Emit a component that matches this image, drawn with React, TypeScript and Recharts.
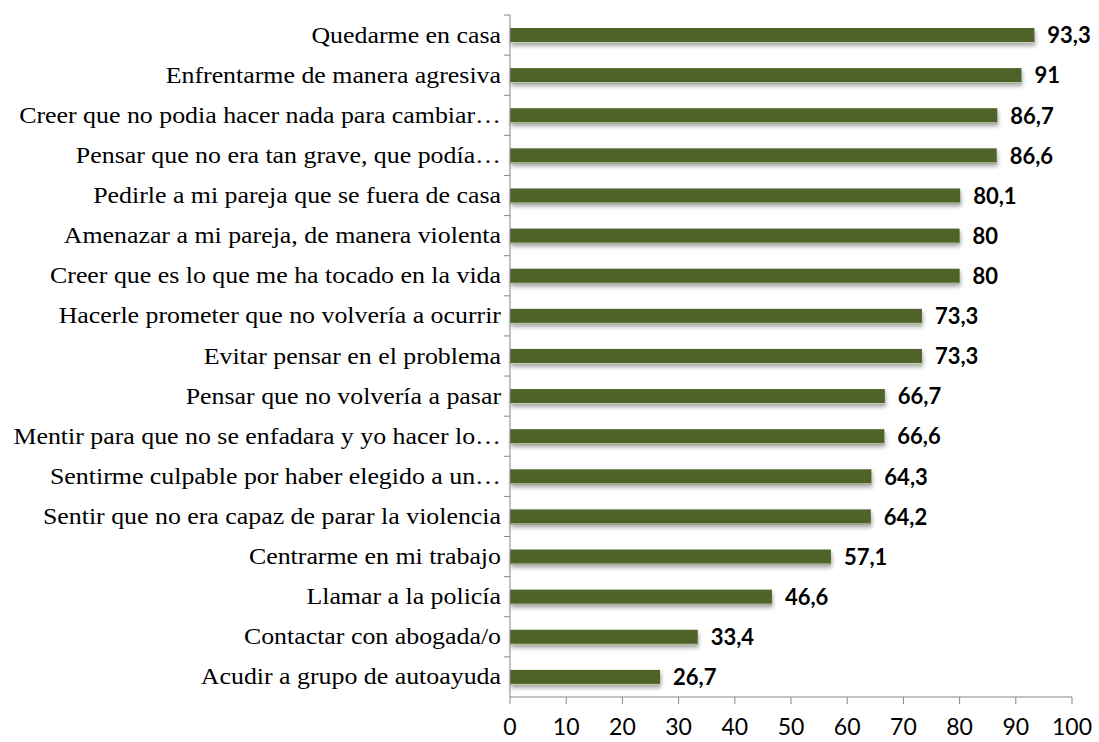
import { BarChart, Bar, XAxis, YAxis, LabelList } from 'recharts';

const categories = [
  'Quedarme en casa',
  'Enfrentarme de manera agresiva',
  'Creer que no podia hacer nada para cambiar…',
  'Pensar que no era tan grave, que podía…',
  'Pedirle a mi pareja que se fuera de casa',
  'Amenazar a mi pareja, de manera violenta',
  'Creer que es lo que me ha tocado en la vida',
  'Hacerle prometer que no volvería a ocurrir',
  'Evitar pensar en el problema',
  'Pensar que no volvería a pasar',
  'Mentir para que no se enfadara y yo hacer lo…',
  'Sentirme culpable por haber elegido a un…',
  'Sentir que no era capaz de parar la violencia',
  'Centrarme en mi trabajo',
  'Llamar a la policía',
  'Contactar con abogada/o',
  'Acudir a grupo de autoayuda',
];

const values = [93.3, 91, 86.7, 86.6, 80.1, 80, 80, 73.3, 73.3, 66.7, 66.6, 64.3, 64.2, 57.1, 46.6, 33.4, 26.7];

const xTicks = [0, 10, 20, 30, 40, 50, 60, 70, 80, 90, 100];

const data = categories.map((name, i) => ({ name, value: values[i] }));

const W = 1099;
const H = 742;
const TOP = 15;
const BOTTOM = 45;
const BAND = (H - TOP - BOTTOM) / categories.length;

// category labels: the original is a stretched Times text, so widen it a bit
const CategoryTick = (props: any) => {
  const { x, y, payload } = props;
  return (
    <g>
      <line x1={x + 2} x2={x + 8} y1={y - BAND / 2} y2={y - BAND / 2} stroke="#868686" />
      <text
        transform={`translate(${x - 1},${y + 7.5}) scale(1.15,1)`}
        textAnchor="end"
        fontFamily="'Liberation Serif', 'Times New Roman', serif"
        fontSize={22.5}
        fill="#000"
      >
        {payload.value}
      </text>
    </g>
  );
};

const ShadowBar = (props: any) => {
  const { x, y, width, height, fill } = props;
  return (
    <g>
      <rect x={x} y={y} width={width} height={height} fill={fill}
        style={{ filter: 'drop-shadow(1px 3px 2px rgba(0,0,0,0.35))' }} />
      <line x1={x} x2={x + width} y1={y + height - 0.5} y2={y + height - 0.5} stroke="#c9d3b4" strokeWidth={1} />
    </g>
  );
};

export default function App() {
  return (
    <div style={{ position: 'absolute', left: 0, top: 0, background: '#fff' }}>
      <BarChart
        width={W}
        height={H}
        data={data}
        layout="vertical"
        margin={{ top: TOP, right: 27, bottom: 0, left: 0 }}
        barCategoryGap="0%"
      >
        <XAxis
          type="number"
          domain={[0, 100]}
          ticks={xTicks}
          interval={0}
          height={BOTTOM}
          stroke="#868686"
          tickSize={7}
          tick={{ fill: '#000', fontSize: 23, fontFamily: "Lato, 'Noto Sans', sans-serif" }}
          tickMargin={15}
        />
        <YAxis
          type="category"
          dataKey="name"
          width={510}
          stroke="#868686"
          tickLine={false}
          tick={<CategoryTick />}
          interval={0}
        />
        <Bar dataKey="value" fill="#4f6228" barSize={15} isAnimationActive={false} shape={<ShadowBar />}>
          <LabelList
            dataKey="value"
            position="right"
            offset={13}
            formatter={(v: any) => String(v).replace('.', ',')}
            style={{ fill: '#000', fontWeight: 700, fontSize: 22, fontFamily: "Lato, 'Noto Sans', sans-serif" }}
          />
        </Bar>
      </BarChart>
    </div>
  );
}
